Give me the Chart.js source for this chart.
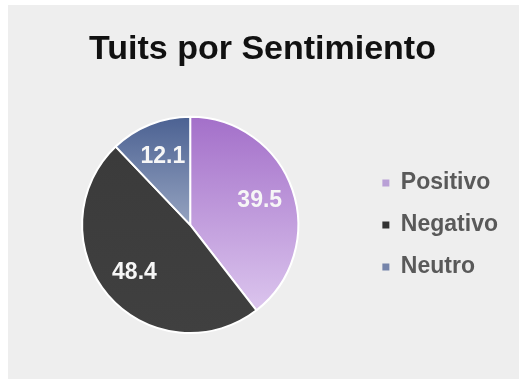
<!DOCTYPE html>
<html>
<head>
<meta charset="utf-8">
<script src="https://cdn.jsdelivr.net/npm/chart.js@4/dist/chart.umd.min.js"></script>
<style>
  html, body { margin: 0; padding: 0; background: #ffffff; }
  #wrap {
    position: absolute; left: 8px; top: 5px;
    width: 511px; height: 374px;
    background: #eeeeee;
  }
</style>
</head>
<body>
<div id="wrap"><canvas id="chart"></canvas></div>
<script>
// ================================================================
//  TUITS POR SENTIMIENTO
// ================================================================
const labels = ['Positivo', 'Negativo', 'Neutro'];
const values = [39.5, 48.4, 12.1];
const legendColors = ['#b9a0d6', '#333333', '#7584aa'];

// slice fills: top colour -> bottom colour
const sliceTop = ['#a36fc9', '#3a3a3a', '#4b6192'];
const sliceBottom = ['#dcc6ee', '#404040', '#95a3c0'];

function sliceFill(ctx) {
  const chart = ctx.chart;
  const area = chart.chartArea;
  if (!area) return legendColors[ctx.dataIndex];
  const i = ctx.dataIndex;
  const cy = (area.top + area.bottom) / 2;
  const r = Math.min(area.width, area.height) / 2;
  let y0 = cy - r, y1 = cy + r;
  if (i === 2) { y0 = cy - r; y1 = cy; }
  if (i === 0) { y0 = cy - r; y1 = cy + r * 0.8; }
  const g = chart.ctx.createLinearGradient(0, y0, 0, y1);
  g.addColorStop(0, sliceTop[i]);
  g.addColorStop(1, sliceBottom[i]);
  return g;
}

// value labels inside each slice
const sliceLabels = {
  id: 'sliceLabels',
  afterDatasetsDraw(chart) {
    const ctx = chart.ctx;
    const meta = chart.getDatasetMeta(0);
    ctx.save();
    ctx.font = 'bold 23px "Liberation Sans", Arial, sans-serif';
    ctx.fillStyle = '#f6f6f6';
    ctx.textAlign = 'center';
    ctx.textBaseline = 'middle';
    meta.data.forEach((arc, i) => {
      const p = arc.getProps(['x', 'y', 'startAngle', 'endAngle', 'outerRadius'], true);
      const mid = (p.startAngle + p.endAngle) / 2;
      const d = p.outerRadius * 0.68;
      ctx.fillText(values[i].toFixed(1), p.x + Math.cos(mid) * d, p.y + Math.sin(mid) * d);
    });
    ctx.restore();
  }
};

new Chart(document.getElementById('chart').getContext('2d'), {
  type: 'pie',
  data: {
    labels: labels,
    datasets: [{
      data: values,
      backgroundColor: sliceFill,
      borderColor: '#ffffff',
      borderWidth: 2
    }]
  },
  options: {
    responsive: true, maintainAspectRatio: false,
    animation: false,
    layout: { padding: { left: 9, right: 11, top: 0, bottom: 45 } },
    plugins: {
      title: {
        display: true,
        text: 'Tuits por Sentimiento',
        color: '#111111',
        font: { family: '"Liberation Sans", Arial, sans-serif', size: 34, weight: 'bold' },
        padding: { top: 24, bottom: 46 }
      },
      legend: {
        position: 'right',
        fullSize: false,
        labels: {
          color: '#595959',
          font: { family: '"Liberation Sans", Arial, sans-serif', size: 23, weight: 'bold' },
          usePointStyle: true,
          pointStyle: 'rect',
          boxWidth: 7, boxHeight: 7,
          padding: 19,
          generateLabels: chart => labels.map((l, i) => ({
            text: l,
            fillStyle: legendColors[i],
            strokeStyle: legendColors[i],
            lineWidth: 0,
            pointStyle: 'rect',
            fontColor: '#595959',
            index: i
          }))
        }
      },
      tooltip: { enabled: false }
    }
  },
  plugins: [sliceLabels]
});
</script>
</body>
</html>
